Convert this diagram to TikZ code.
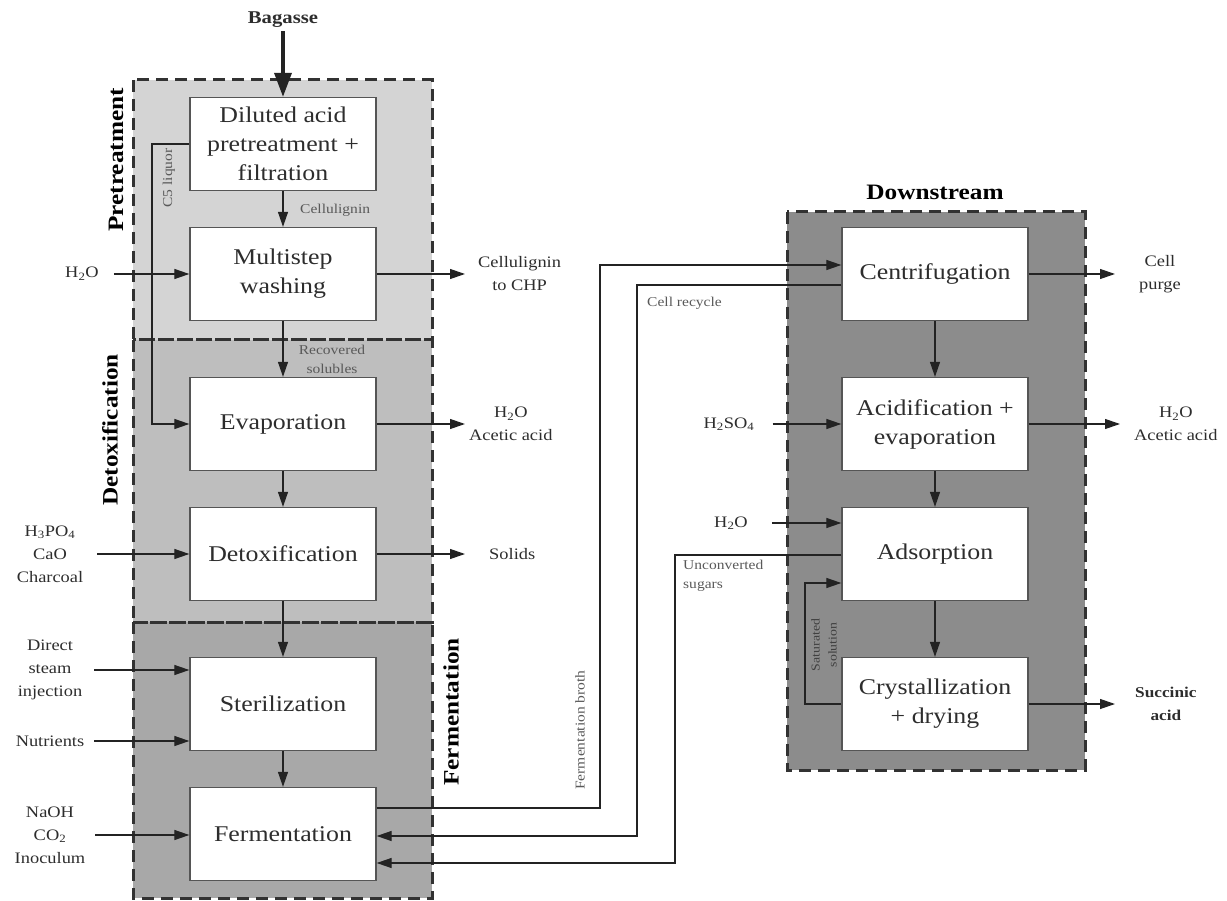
\documentclass[tikz,border=0pt]{standalone}
\usepackage{fontspec}
\setmainfont{Liberation Serif}[FakeStretch=1.15]
\usetikzlibrary{arrows.meta}
\definecolor{preC}{RGB}{212,212,212}
\definecolor{detC}{RGB}{190,190,190}
\definecolor{ferC}{RGB}{168,168,168}
\definecolor{dowC}{RGB}{140,140,140}
\definecolor{dashC}{RGB}{50,50,50}
\definecolor{boxC}{RGB}{85,85,85}
\definecolor{txtC}{RGB}{45,45,45}
\definecolor{lineC}{RGB}{35,35,35}
\begin{document}
\begin{tikzpicture}[x=1pt,y=-1pt,
  proc/.style={draw=boxC, line width=1.3pt, fill=white, minimum width=186pt,
    minimum height=93pt, align=center, inner sep=2pt,
    font=\fontsize{22.5}{29}\selectfont, text=txtC},
  region/.style={draw=dashC, dash pattern=on 12pt off 7pt, line width=3pt},
  flow/.style={draw=lineC, line width=1.2pt, -{Triangle[length=15pt,width=10pt]}},
  lbl/.style={font=\fontsize{16}{23}\selectfont, align=center, text=txtC},
  tiny/.style={font=\fontsize{13.5}{19}\selectfont, text=black!65, inner sep=0pt},
  sect/.style={font=\bfseries\fontsize{22}{24}\selectfont, text=black}
]
\useasboundingbox (0,0) rectangle (1227,901);
% regions
\fill[preC] (133,80) rectangle (432,340);
\fill[detC] (133,340) rectangle (432,622);
\fill[ferC] (133,622) rectangle (432,898);
\fill[dowC] (787,212) rectangle (1085,770);
\draw[region] (133,80) rectangle (432,340);
\draw[region] (133,340) rectangle (432,622);
\draw[region] (133,622) rectangle (432,898);
\draw[region] (787,212) rectangle (1085,770);
% section labels
\node[sect, rotate=90] (sPre) at (116,160) {Pretreatment};
\node[sect, rotate=90] (sDet) at (110,430) {Detoxification};
\node[sect, rotate=90] (sFer) at (451,712) {Fermentation};
\node[sect] (sDow) at (935,192) {Downstream};
% process boxes
\node[proc] (dil) at (283,144) {Diluted acid\\pretreatment +\\filtration};
\node[proc] (wash) at (283,274) {Multistep\\washing};
\node[proc] (evap) at (283,424) {Evaporation};
\node[proc] (detox) at (283,554) {Detoxification};
\node[proc] (ster) at (283,704) {Sterilization};
\node[proc] (ferm) at (283,834) {Fermentation};
\node[proc] (cent) at (935,274) {Centrifugation};
\node[proc] (acid) at (935,424) {Acidification +\\evaporation};
\node[proc] (ads) at (935,554) {Adsorption};
\node[proc] (cry) at (935,704) {Crystallization\\+ drying};
% bagasse
\node[font=\bfseries\fontsize{18}{20}\selectfont, text=txtC] (bag) at (283,20) {Bagasse};
\draw[draw=lineC, line width=3.5pt, -{Triangle[length=24pt,width=17pt]}] (bag) -- (dil);
% vertical flows
\draw[flow] (dil) -- (wash);
\draw[flow] (wash) -- (evap);
\draw[flow] (evap) -- (detox);
\draw[flow] (detox) -- (ster);
\draw[flow] (ster) -- (ferm);
\draw[flow] (cent) -- (acid);
\draw[flow] (acid) -- (ads);
\draw[flow] (ads) -- (cry);
\node[tiny, anchor=west] (tCel) at (300,210) {Cellulignin};
\node[tiny, align=center] (tRec) at (332,359) {Recovered\\solubles};
% C5 liquor
\coordinate (c5x) at (152,0);
\draw[flow] (dil.west) -- (dil.west -| c5x) -- (evap.west -| c5x) -- (evap.west);
\node[tiny, rotate=90] (tC5) at (169,178) {C5 liquor};
% inputs
\node[lbl, inner xsep=15pt] (iH2O) at (82,274) {H\textsubscript{2}O};
\draw[flow] (iH2O.east) -- (wash.west);
\node[lbl, inner xsep=14pt] (iChem) at (50,554) {H\textsubscript{3}PO\textsubscript{4}\\CaO\\Charcoal};
\draw[flow] (iChem.east) -- (detox.west);
\node[lbl, inner xsep=12pt] (iSteam) at (50,670) {Direct\\steam\\injection};
\draw[flow] (iSteam.east) -- (iSteam.east -| ster.west);
\node[lbl, inner xsep=10pt] (iNut) at (50,741) {Nutrients};
\draw[flow] (iNut.east) -- (iNut.east -| ster.west);
\node[lbl, inner xsep=10pt] (iNaOH) at (50,835) {NaOH\\CO\textsubscript{2}\\Inoculum};
\draw[flow] (iNaOH.east) -- (iNaOH.east -| ferm.west);
\node[lbl, inner xsep=18pt] (iSulf) at (729,424) {H\textsubscript{2}SO\textsubscript{4}};
\draw[flow] (iSulf.east) -- (acid.west);
\node[lbl, inner xsep=24pt] (iH2Ob) at (731,523) {H\textsubscript{2}O};
\draw[flow] (iH2Ob.east) -- (iH2Ob.east -| ads.west);
% outputs
\node[lbl, anchor=west, inner xsep=13pt] (oCel) at (465,274) {Cellulignin\\to CHP};
\draw[flow] (wash.east) -- (oCel.west);
\node[lbl, anchor=west, inner xsep=4pt] (oEvap) at (465,424) {H\textsubscript{2}O\\Acetic acid};
\draw[flow] (evap.east) -- (oEvap.west);
\node[lbl, anchor=west, inner xsep=24pt] (oSol) at (465,554) {Solids};
\draw[flow] (detox.east) -- (oSol.west);
\node[lbl, anchor=west, inner xsep=24pt] (oPurge) at (1115,274) {Cell\\purge};
\draw[flow] (cent.east) -- (oPurge.west);
\node[lbl, anchor=west, inner xsep=14pt] (oAcid) at (1120,424) {H\textsubscript{2}O\\Acetic acid};
\draw[flow] (acid.east) -- (oAcid.west);
\node[lbl, anchor=west, inner xsep=20pt, font=\bfseries\fontsize{15}{23}\selectfont] (oSuc) at (1115,704) {Succinic\\acid};
\draw[flow] (cry.east) -- (oSuc.west);
% recycle loops
\coordinate (brY) at (0,808);
\coordinate (brX) at (600,0);
\coordinate (brT) at (0,265);
\draw[flow] (ferm.east |- brY) -- (brX |- brY) -- (brX |- brT) -- (cent.west |- brT);
\node[tiny, rotate=90] (tBroth) at (580,730) {Fermentation broth};
\coordinate (rcT) at (0,285);
\coordinate (rcX) at (637,0);
\coordinate (rcB) at (0,836);
\draw[flow] (cent.west |- rcT) -- (rcX |- rcT) -- (rcX |- rcB) -- (ferm.east |- rcB);
\node[tiny, anchor=west] (tRc) at (647,303) {Cell recycle};
\coordinate (usT) at (0,555);
\coordinate (usX) at (675,0);
\coordinate (usB) at (0,863);
\draw[flow] (ads.west |- usT) -- (usX |- usT) -- (usX |- usB) -- (ferm.east |- usB);
\node[tiny, anchor=north west, align=left] (tUs) at (683,560) {Unconverted\\sugars};
\coordinate (saX) at (805,0);
\coordinate (saT) at (0,583);
\draw[flow] (cry.west) -- (cry.west -| saX) -- (saX |- saT) -- (ads.west |- saT);
\node[tiny, rotate=90, align=center, text=black!75, font=\fontsize{12}{17}\selectfont] (tSat) at (824,645) {Saturated\\solution};
\end{tikzpicture}
\end{document}
